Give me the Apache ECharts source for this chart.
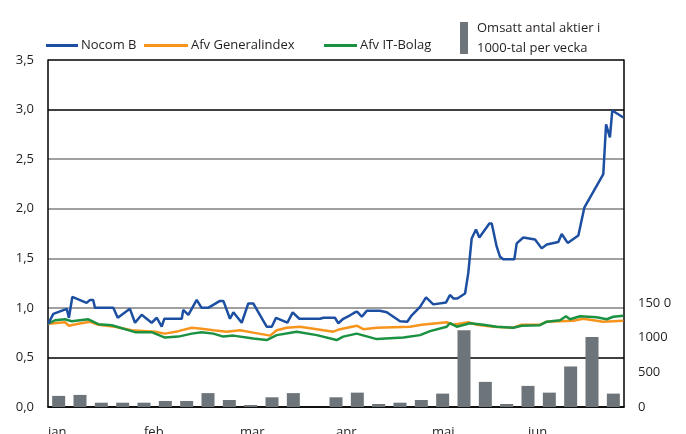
<!DOCTYPE html>
<html>
<head>
<meta charset="utf-8">
<script src="https://cdn.jsdelivr.net/npm/echarts@6/dist/echarts.min.js"></script>
<style>
  html, body { margin: 0; padding: 0; background: #fff; }
  #chart { width: 686px; height: 434px; }
</style>
</head>
<body>
<div id="chart"></div>
<script>
'use strict';

// month labels, one per 4.5 weeks on the x axis
let months = ['jan', 'feb', 'mar', 'apr', 'mai', 'jun'];

// [week, kurs]
let nocom = [
  [0.01, 0.84], [0.25, 0.94], [0.88, 0.99], [0.98, 0.90], [1.14, 1.11], [1.81, 1.05],
  [1.97, 1.08], [2.12, 1.08], [2.20, 1.00], [3.06, 1.00], [3.27, 0.90], [3.84, 0.99],
  [4.08, 0.85], [4.39, 0.93], [4.86, 0.85], [5.10, 0.90], [5.33, 0.81], [5.45, 0.89],
  [6.27, 0.89], [6.34, 0.98], [6.58, 0.93], [6.97, 1.08], [7.20, 1.00], [7.51, 1.00],
  [8.06, 1.07], [8.22, 1.07], [8.53, 0.89], [8.69, 0.955], [9.08, 0.85], [9.39, 1.045],
  [9.62, 1.045], [10.25, 0.81], [10.49, 0.81], [10.69, 0.90], [11.22, 0.85], [11.47, 0.955],
  [11.78, 0.89], [12.75, 0.89], [12.91, 0.90], [13.45, 0.90], [13.61, 0.845], [13.84, 0.89],
  [14.16, 0.925], [14.39, 0.955], [14.50, 0.96], [14.71, 0.91], [14.94, 0.97], [15.56, 0.97],
  [15.88, 0.955], [16.50, 0.865], [16.84, 0.86], [17.05, 0.925], [17.44, 1.01], [17.72, 1.105],
  [18.06, 1.035], [18.66, 1.055], [18.72, 1.05], [18.84, 1.13], [19.00, 1.095], [19.19, 1.095],
  [19.55, 1.145], [19.70, 1.35], [19.86, 1.70], [20.06, 1.79], [20.22, 1.71], [20.69, 1.85],
  [20.80, 1.85], [21.03, 1.62], [21.19, 1.515], [21.34, 1.49], [21.86, 1.49], [21.97, 1.65],
  [22.28, 1.71], [22.83, 1.69], [23.14, 1.60], [23.38, 1.64], [23.92, 1.665], [24.08, 1.745],
  [24.36, 1.655], [24.86, 1.73], [25.14, 2.01], [26.03, 2.35], [26.16, 2.85], [26.34, 2.72],
  [26.45, 2.99], [26.97, 2.92]
];

let generalindex = [
  [0.01, 0.84], [0.80, 0.855], [0.98, 0.82], [1.42, 0.84], [1.97, 0.86], [2.36, 0.83],
  [3.14, 0.81], [3.92, 0.775], [5.02, 0.76], [5.48, 0.74], [6.11, 0.765], [6.74, 0.80],
  [7.20, 0.79], [7.75, 0.775], [8.38, 0.76], [9.00, 0.775], [9.62, 0.75], [10.41, 0.72],
  [10.72, 0.775], [11.19, 0.80], [11.81, 0.81], [12.60, 0.785], [13.37, 0.76], [13.69, 0.785],
  [14.47, 0.82], [14.78, 0.785], [15.41, 0.80], [16.97, 0.81], [17.52, 0.83], [18.69, 0.855],
  [19.00, 0.83], [19.70, 0.855], [20.10, 0.83], [20.87, 0.81], [21.81, 0.80], [22.20, 0.83],
  [23.06, 0.83], [23.38, 0.86], [24.62, 0.87], [25.09, 0.89], [26.03, 0.86], [26.97, 0.87]
];

let itBolag = [
  [0.01, 0.84], [0.33, 0.875], [0.80, 0.885], [1.11, 0.865], [1.89, 0.885], [2.36, 0.835],
  [2.99, 0.825], [4.08, 0.755], [4.86, 0.755], [5.48, 0.70], [6.11, 0.71], [6.74, 0.74],
  [7.20, 0.755], [7.75, 0.74], [8.22, 0.71], [8.69, 0.72], [9.62, 0.69], [10.25, 0.675],
  [10.72, 0.725], [11.66, 0.76], [12.60, 0.725], [13.53, 0.675], [13.84, 0.71], [14.47, 0.74],
  [15.41, 0.685], [16.66, 0.70], [17.44, 0.725], [17.91, 0.765], [18.69, 0.81], [18.84, 0.845],
  [19.16, 0.81], [19.78, 0.845], [20.41, 0.83], [21.03, 0.81], [21.81, 0.80], [22.20, 0.82],
  [23.06, 0.825], [23.38, 0.86], [24.00, 0.875], [24.28, 0.915], [24.47, 0.885], [24.94, 0.915],
  [25.72, 0.905], [26.19, 0.885], [26.50, 0.91], [26.97, 0.92]
];

// weekly turnover, thousands of shares
let weeks = ['v1', 'v2', 'v3', 'v4', 'v5', 'v6', 'v7', 'v8', 'v9', 'v10', 'v11', 'v12', 'v13', 'v14',
  'v15', 'v16', 'v17', 'v18', 'v19', 'v20', 'v21', 'v22', 'v23', 'v24', 'v25', 'v26', 'v27'];
let volume = [160, 174, 62, 62, 62, 87, 87, 200, 101, 29, 140, 200, 0, 140,
  207, 43, 62, 101, 193, 1106, 362, 43, 304, 207, 584, 1010, 193];

let leftTicks = ['0,0', '0,5', '1,0', '1,5', '2,0', '2,5', '3,0', '3,5'];
let rightTicks = ['0', '500', '1000', '150 0'];

let font = 'Open Sans';
let textCol = '#231f20';

var dom = document.getElementById('chart');
var myChart = echarts.init(dom, null, { renderer: 'canvas' });

function lineLegend(name, left, w) {
  return {
    data: [name],
    left: left,
    top: 34,
    icon: 'rect',
    itemWidth: w,
    itemHeight: 3,
    itemGap: 0,
    textStyle: { fontFamily: font, fontSize: 13, color: textCol, padding: [0, 0, 0, -2] },
    selectedMode: false
  };
}

myChart.setOption({
  animation: false,
  legend: [
    lineLegend('Nocom B', 41, 32),
    lineLegend('Afv Generalindex', 139, 44),
    lineLegend('Afv IT-Bolag', 319, 33),
    {
      data: ['Omsatt antal aktier i\n1000-tal per vecka'],
      left: 455,
      top: 13,
      icon: 'rect',
      itemWidth: 8,
      itemHeight: 32,
      itemGap: 0,
      textStyle: { fontFamily: font, fontSize: 13, color: textCol, lineHeight: 20, padding: [0, 0, 0, 4] },
      selectedMode: false
    }
  ],
  grid: { left: 48, right: 62, top: 60, bottom: 27, outerBoundsMode: 'none', containLabel: false },
  xAxis: [{
    type: 'value',
    min: 0,
    max: 27,
    interval: 4.5,
    axisLine: { show: true, onZero: false, lineStyle: { color: '#000', width: 1.5 } },
    axisTick: { show: false },
    splitLine: { show: false },
    axisLabel: {
      margin: 19,
      align: 'left',
      fontFamily: font, fontSize: 13, color: textCol,
      formatter: function(v) { return months[Math.round(v / 4.5)] || ''; }
    }
  }, {
    type: 'category',
    data: weeks,
    show: false,
    boundaryGap: true
  }],
  yAxis: [{
    type: 'value',
    min: 0,
    max: 3.5,
    interval: 0.5,
    axisLine: { show: true, lineStyle: { color: '#000', width: 1.5 } },
    axisTick: { show: false },
    axisLabel: {
      margin: 14,
      fontFamily: font, fontSize: 13, color: textCol,
      formatter: function(v) { return leftTicks[Math.round(v / 0.5)]; }
    },
    splitLine: {
      show: true,
      showMinLine: true,
      showMaxLine: true,
      lineStyle: {
        width: 1.5,
        color: ['#000', '#000', '#808080', '#808080', '#808080', '#808080', '#000', '#000']
      }
    }
  }, {
    type: 'value',
    position: 'right',
    min: 0,
    max: 5000,
    interval: 500,
    axisLine: { show: true, lineStyle: { color: '#000', width: 1.5 } },
    axisTick: { show: false },
    splitLine: { show: false },
    axisLabel: {
      margin: 14,
      fontFamily: font, fontSize: 13, color: textCol,
      formatter: function(v) { return v <= 1500 ? rightTicks[Math.round(v / 500)] : ''; }
    }
  }],
  series: [{
    name: 'Omsatt antal aktier i\n1000-tal per vecka',
    type: 'bar',
    xAxisIndex: 1,
    yAxisIndex: 1,
    data: volume,
    barWidth: 13,
    itemStyle: { color: '#6d757a' }
  }, {
    name: 'Afv Generalindex',
    type: 'line',
    data: generalindex,
    showSymbol: false,
    color: '#f7941d',
    lineStyle: { width: 2.5 }
  }, {
    name: 'Afv IT-Bolag',
    type: 'line',
    data: itBolag,
    showSymbol: false,
    color: '#1b9142',
    lineStyle: { width: 2.5 }
  }, {
    name: 'Nocom B',
    type: 'line',
    data: nocom,
    showSymbol: false,
    color: '#1c4fa1',
    lineStyle: { width: 2.5 }
  }]
});
</script>
</body>
</html>
